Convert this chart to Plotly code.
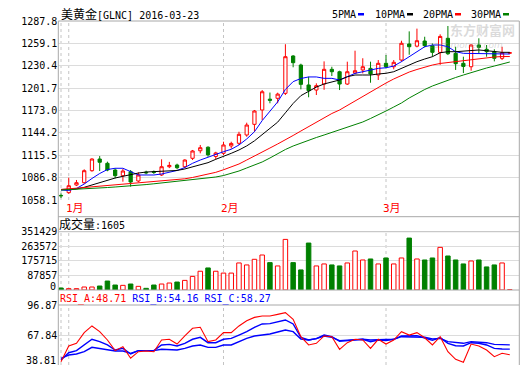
import plotly.graph_objects as go
import pandas as pd

W, H = 520, 365

trade_days = [d.strftime("%Y-%m-%d") for d in pd.bdate_range("2015-12-31", "2016-03-23")
              if d.strftime("%Y-%m-%d") != "2016-01-01"]

open_ = [1064.0, 1067.5, 1077.3, 1080.3, 1095.7, 1110.7, 1105.2, 1096.6, 1089.3, 1094.4,
         1082.5, 1093.8, 1094.5, 1090.2, 1100.8, 1103.0, 1100.8, 1111.6, 1121.3, 1125.8,
         1114.0, 1118.0, 1127.5, 1130.9, 1141.5, 1155.2, 1173.6, 1187.5, 1188.6, 1195.0,
         1242.9, 1231.3, 1205.7, 1199.2, 1206.9, 1225.8, 1222.7, 1206.9, 1221.0, 1225.0,
         1227.0, 1218.5, 1233.5, 1229.1, 1237.7, 1258.3, 1255.5, 1262.1, 1256.1, 1247.5,
         1265.6, 1246.3, 1233.5, 1229.1, 1257.0, 1251.5, 1248.4, 1239.9, 1246.5]
high = [1066.4, 1086.7, 1083.8, 1097.5, 1111.6, 1114.5, 1107.3, 1098.8, 1097.9, 1096.6,
        1093.6, 1095.7, 1096.0, 1110.3, 1107.0, 1104.7, 1110.3, 1122.3, 1128.7, 1127.0,
        1120.0, 1132.9, 1132.9, 1145.7, 1157.3, 1173.6, 1199.2, 1196.0, 1195.8, 1258.0,
        1244.0, 1233.0, 1216.3, 1207.8, 1236.0, 1229.1, 1224.0, 1235.6, 1249.7, 1240.0,
        1235.6, 1237.7, 1244.1, 1237.7, 1262.5, 1274.5, 1278.0, 1267.6, 1259.0, 1270.7,
        1281.4, 1254.8, 1242.0, 1258.0, 1265.6, 1257.0, 1251.5, 1254.8, 1248.0]
low = [1060.6, 1066.0, 1076.0, 1079.0, 1094.4, 1095.3, 1095.0, 1085.9, 1081.6, 1075.2,
       1081.0, 1091.0, 1091.5, 1089.0, 1099.0, 1097.5, 1099.0, 1109.4, 1118.0, 1113.5,
       1110.3, 1115.8, 1124.0, 1128.7, 1139.3, 1145.7, 1160.7, 1182.2, 1182.2, 1192.8,
       1228.4, 1200.1, 1189.9, 1192.8, 1199.5, 1217.2, 1199.2, 1205.7, 1220.0, 1220.6,
       1208.6, 1212.1, 1227.0, 1225.8, 1235.6, 1244.5, 1254.0, 1254.0, 1242.0, 1231.5,
       1244.1, 1225.0, 1221.0, 1224.0, 1246.3, 1242.0, 1236.0, 1237.7, 1245.5]
close = [1063.5, 1076.4, 1080.3, 1095.7, 1110.7, 1106.5, 1096.6, 1089.3, 1095.3, 1081.2,
         1090.2, 1093.0, 1093.5, 1100.8, 1102.5, 1099.5, 1109.4, 1121.0, 1125.2, 1116.0,
         1118.5, 1128.7, 1130.7, 1142.4, 1154.3, 1172.3, 1197.0, 1186.0, 1194.0, 1242.0,
         1234.3, 1206.5, 1198.4, 1204.8, 1225.8, 1222.7, 1206.9, 1222.7, 1224.0, 1229.1,
         1219.8, 1233.5, 1229.1, 1234.8, 1259.2, 1254.8, 1262.5, 1256.1, 1247.6, 1268.0,
         1245.8, 1233.0, 1229.5, 1257.0, 1254.0, 1248.4, 1239.9, 1247.0, 1247.0]

volume = [12000, 8000, 8000, 18000, 18000, 24000, 54000, 30000, 28000, 36000,
          22000, 10000, 30000, 36000, 42000, 48000, 58000, 82000, 113000, 133000,
          113000, 102000, 102000, 163000, 151000, 185000, 211000, 165000, 145000, 305000,
          165000, 121000, 283000, 145000, 157000, 151000, 145000, 163000, 235000, 181000,
          187000, 157000, 193000, 157000, 193000, 313000, 187000, 181000, 193000, 257000,
          205000, 181000, 157000, 175000, 181000, 139000, 151000, 163000, 1605]

ma5 = [1070.9, 1070.3, 1072.9, 1078.6, 1085.7, 1092.1, 1097.2, 1098.8, 1098.8, 1094.4,
       1090.2, 1090.2, 1090.2, 1091.5, 1093.4, 1096.0, 1099.8, 1105.2, 1109.4, 1113.3,
       1116.5, 1120.1, 1123.2, 1128.7, 1136.4, 1145.7, 1160.0, 1172.0, 1184.0, 1200.0,
       1210.0, 1214.0, 1216.0, 1216.0, 1214.2, 1214.2, 1212.1, 1216.3, 1220.6, 1222.7,
       1224.9, 1227.0, 1227.8, 1230.0, 1235.6, 1242.0, 1249.3, 1254.8, 1257.0, 1257.0,
       1254.8, 1248.4, 1246.3, 1246.3, 1246.3, 1245.4, 1245.4, 1246.3, 1245.4]
ma10 = [1071.6, 1071.6, 1072.2, 1074.4, 1077.3, 1080.6, 1083.8, 1086.3, 1088.5, 1090.8,
        1092.7, 1094.0, 1094.5, 1094.9, 1095.3, 1096.0, 1097.9, 1100.4, 1103.6, 1106.0,
        1110.3, 1113.7, 1118.0, 1122.3, 1127.5, 1134.0, 1142.0, 1150.0, 1158.0, 1170.0,
        1182.0, 1192.0, 1198.0, 1203.0, 1207.0, 1209.9, 1212.1, 1216.3, 1218.5, 1218.5,
        1218.5, 1219.8, 1220.7, 1222.7, 1227.1, 1231.3, 1235.6, 1239.0, 1242.0, 1247.1,
        1248.4, 1248.4, 1249.3, 1250.6, 1250.6, 1249.7, 1248.4, 1247.6, 1247.6]
ma20 = [1071.6, 1072.2, 1072.9, 1074.1, 1075.0, 1075.8, 1076.6, 1077.3, 1078.2, 1078.9,
        1079.7, 1080.4, 1081.2, 1082.0, 1083.0, 1084.0, 1085.3, 1087.0, 1088.9, 1091.1,
        1093.6, 1096.9, 1100.4, 1104.3, 1109.4, 1114.8, 1120.3, 1124.8, 1130.0, 1135.1,
        1140.9, 1146.6, 1152.4, 1158.2, 1164.0, 1169.1, 1173.6, 1179.4, 1185.1, 1191.6,
        1197.3, 1203.1, 1208.2, 1213.4, 1217.9, 1222.3, 1225.6, 1228.8, 1231.3, 1233.3,
        1234.5, 1235.8, 1237.1, 1238.4, 1239.7, 1241.0, 1241.6, 1242.2, 1242.2]
ma30 = [1070.9, 1071.3, 1071.8, 1072.3, 1072.9, 1073.5, 1074.1, 1074.8, 1075.4, 1076.1,
        1077.0, 1077.9, 1078.9, 1079.9, 1080.8, 1081.7, 1082.7, 1083.8, 1085.0, 1086.3,
        1087.6, 1089.5, 1092.1, 1095.3, 1099.2, 1103.0, 1106.9, 1112.0, 1117.8, 1122.9,
        1127.4, 1131.2, 1135.1, 1138.3, 1141.5, 1144.7, 1147.9, 1151.1, 1154.3, 1158.2,
        1162.7, 1167.2, 1172.3, 1177.4, 1182.6, 1189.0, 1194.8, 1199.9, 1204.4, 1208.2,
        1212.1, 1215.3, 1218.5, 1221.7, 1224.9, 1227.5, 1230.0, 1232.6, 1235.2]

rsi_a = [42.0, 57.2, 59.8, 70.1, 76.6, 71.1, 63.0, 52.7, 56.6, 45.3,
         51.7, 52.4, 51.7, 63.0, 63.7, 59.1, 66.9, 74.3, 75.3, 61.4,
         63.0, 70.1, 70.1, 76.6, 81.7, 84.9, 86.2, 86.2, 87.8, 89.5,
         83.0, 66.2, 58.2, 59.8, 66.9, 66.2, 54.0, 60.4, 63.7, 63.0,
         54.9, 63.7, 59.1, 63.0, 71.1, 67.8, 70.1, 65.2, 58.2, 66.2,
         51.7, 44.3, 41.4, 59.1, 57.2, 53.3, 46.9, 50.1, 48.71]
rsi_b = [43.6, 50.7, 52.7, 58.2, 63.7, 61.4, 58.2, 53.3, 54.9, 49.5,
         52.7, 52.7, 52.7, 58.2, 58.8, 57.2, 59.8, 63.7, 65.6, 60.4,
         60.4, 63.7, 64.6, 67.8, 71.1, 75.3, 78.5, 78.8, 80.7, 82.4,
         78.5, 65.6, 63.0, 64.3, 67.8, 66.2, 61.7, 62.4, 63.7, 63.7,
         61.4, 63.0, 62.4, 63.7, 66.9, 66.9, 67.2, 64.9, 62.7, 65.3,
         59.8, 57.5, 57.2, 60.4, 59.8, 58.2, 54.9, 54.3, 54.16]
rsi_c = [45.3, 48.5, 49.5, 51.7, 55.9, 54.9, 54.0, 52.4, 52.4, 50.1,
         52.7, 52.7, 52.7, 54.0, 54.0, 53.3, 54.9, 57.2, 58.2, 55.9,
         55.9, 58.2, 58.2, 61.4, 64.6, 66.9, 67.8, 68.8, 70.7, 72.7,
         71.1, 64.0, 63.0, 64.3, 66.9, 65.6, 62.4, 63.0, 63.3, 63.7,
         63.0, 63.3, 63.0, 63.7, 66.2, 65.9, 65.9, 65.6, 64.0, 64.6,
         61.4, 60.4, 59.8, 61.4, 61.1, 60.4, 58.8, 58.2, 58.27]

price_ticks = [1058.1, 1086.8, 1115.5, 1144.2, 1173.0, 1201.7, 1230.4, 1259.1, 1287.8]
vol_ticks = [87857, 175715, 263572, 351429]
rsi_ticks = [67.84, 96.87]
month_days = ["2016-01-04", "2016-02-01", "2016-03-01"]
month_names = ["1月", "2月", "3月"]
divider_days = ["2015-12-31"] + month_days

RED, GREEN, BLUE, BLACK = "#ff0000", "#008000", "#0000ff", "#000000"
GRID, FRAME, DASH = "#dcdcdc", "#a8a8a8", "#c4c4c4"
MONO = "DejaVu Sans Mono, Noto Sans CJK SC, monospace"


def px(x):
    return x / W


def py(y):
    return 1 - y / H


def cjk(s):
    return '<span style="font-size:12px">%s</span>' % s


X0, X1 = 58.3, 519.3
XRANGE = [(X0 - 61) / 7.738, (X1 - 61) / 7.738]

fig = go.Figure()

fig.add_trace(go.Candlestick(
    x=trade_days, open=open_, high=high, low=low, close=close,
    increasing=dict(line=dict(color=RED, width=1), fillcolor="white"),
    decreasing=dict(line=dict(color=GREEN, width=1), fillcolor=GREEN),
    whiskerwidth=0, xaxis="x", yaxis="y", hoverinfo="skip", showlegend=False))

for vals, col in [(ma5, BLUE), (ma10, BLACK), (ma20, RED), (ma30, GREEN)]:
    fig.add_trace(go.Scatter(x=trade_days, y=vals, mode="lines",
                             line=dict(color=col, width=1), xaxis="x", yaxis="y",
                             hoverinfo="skip", showlegend=False))

up = [c >= o for o, c in zip(open_, close)]
fig.add_trace(go.Bar(
    x=trade_days, y=volume, width=0.58,
    marker=dict(color=["white" if u else GREEN for u in up],
                line=dict(color=[RED if u else GREEN for u in up], width=1)),
    xaxis="x2", yaxis="y2", hoverinfo="skip", showlegend=False))

for vals, col, w in [(rsi_c, BLUE, 1.4), (rsi_b, BLUE, 1.4), (rsi_a, RED, 1.1)]:
    fig.add_trace(go.Scatter(x=trade_days, y=vals, mode="lines",
                             line=dict(color=col, width=w), xaxis="x3", yaxis="y3",
                             hoverinfo="skip", showlegend=False))

xcommon = dict(domain=[px(X0), px(X1)], type="category", categoryorder="array",
               categoryarray=trade_days, range=XRANGE, showticklabels=False,
               showgrid=False, zeroline=False, showline=False, ticks="",
               fixedrange=True, automargin=False, rangeslider=dict(visible=False))
tickfont = dict(family=MONO, size=10, color=BLACK)
ycommon = dict(showgrid=True, gridcolor=GRID, gridwidth=1, zeroline=False,
               showline=False, ticks="", tickfont=tickfont, fixedrange=True,
               automargin=False)

fig.update_layout(
    width=W, height=H, margin=dict(l=0, r=0, t=0, b=0, pad=0, autoexpand=False),
    paper_bgcolor="white", plot_bgcolor="white", showlegend=False,
    boxgap=0.4, bargap=0.3, hovermode=False,
    xaxis=dict(anchor="y", **xcommon),
    xaxis2=dict(anchor="y2", **xcommon),
    xaxis3=dict(anchor="y3", **xcommon),
    yaxis=dict(anchor="x", domain=[py(200), py(21)], range=[1058.1, 1287.8],
               tickvals=price_ticks, ticktext=["%.1f" % v for v in price_ticks], **ycommon),
    yaxis2=dict(anchor="x2", domain=[py(290), py(231.7)], range=[0, 351429],
                tickvals=vol_ticks, ticktext=[str(v) for v in vol_ticks], **ycommon),
    yaxis3=dict(anchor="x3", domain=[py(365), py(305)], range=[38.81, 96.87],
                tickvals=rsi_ticks, ticktext=["%.2f" % v for v in rsi_ticks], **ycommon),
)

shapes = []
for d in divider_days:
    for xr, ya, yb in [("x", 21, 200), ("x2", 231.7, 290), ("x3", 305, 365)]:
        shapes.append(dict(type="line", xref=xr, yref="paper", x0=d, x1=d,
                           y0=py(yb), y1=py(ya), layer="below",
                           line=dict(color=DASH, width=1, dash="3px,3px")))
for y in [21, 216.7, 290, 305]:
    shapes.append(dict(type="line", xref="paper", yref="paper", x0=px(X0), x1=px(X1),
                       y0=py(y), y1=py(y), line=dict(color=FRAME, width=1)))
for x in [X0, X1]:
    shapes.append(dict(type="line", xref="paper", yref="paper", x0=px(x), x1=px(x),
                       y0=py(365), y1=py(21), line=dict(color=FRAME, width=1)))
shapes.append(dict(type="line", xref="paper", yref="paper", x0=px(X0), x1=px(X1),
                   y0=py(231.7), y1=py(231.7), line=dict(color="#bcbcbc", width=1)))

legend = [("5PMA", 331.7, 358, BLUE), ("10PMA", 375, 407, BLACK),
          ("20PMA", 422.7, 455, RED), ("30PMA", 470.7, 503, GREEN)]
annotations = []
for name, tx, sx, col in legend:
    annotations.append(dict(text=name, x=px(tx), y=py(14.5), xref="paper", yref="paper",
                            xanchor="left", yanchor="middle", showarrow=False,
                            borderpad=0, borderwidth=0, font=dict(family=MONO, size=10, color=BLACK)))
    shapes.append(dict(type="rect", xref="paper", yref="paper", x0=px(sx), x1=px(sx + 6),
                       y0=py(15.5), y1=py(13), fillcolor=col, line=dict(width=0)))

fig.update_layout(shapes=shapes)

annotations += [
    dict(text=cjk("美黄金") + "[GLNC] 2016-03-23", x=px(61), y=py(14.5),
         xref="paper", yref="paper", xanchor="left", yanchor="middle", showarrow=False,
         borderpad=0, borderwidth=0, font=dict(family=MONO, size=10, color=BLACK)),
    dict(text=cjk("成交量") + ":1605", x=px(59), y=py(224.5),
         xref="paper", yref="paper", xanchor="left", yanchor="middle", showarrow=False,
         borderpad=0, borderwidth=0, font=dict(family=MONO, size=10, color=BLACK)),
    dict(text='<span style="color:#ff0000">RSI_A:48.71</span> '
              '<span style="color:#0000ff">RSI_B:54.16</span> '
              '<span style="color:#0000ff">RSI_C:58.27</span>',
         x=px(60), y=py(298.5), xref="paper", yref="paper", xanchor="left",
         yanchor="middle", showarrow=False, borderpad=0, borderwidth=0,
         font=dict(family=MONO, size=10, color=BLACK)),
    dict(text="0", x=px(55.5), y=py(286.7), xref="paper", yref="paper", xanchor="right",
         yanchor="middle", showarrow=False, borderpad=0, borderwidth=0, font=tickfont),
    dict(text="38.81", x=px(55.5), y=py(360.5), xref="paper", yref="paper", xanchor="right",
         yanchor="middle", showarrow=False, borderpad=0, borderwidth=0, font=tickfont),
    dict(text="<b>东方财富网</b>", x=px(450), y=py(29.5), xref="paper", yref="paper",
         xanchor="left", yanchor="middle", showarrow=False, borderpad=0, borderwidth=0,
         font=dict(family="Noto Sans CJK SC", size=13, color="rgba(150,150,150,0.35)")),
    dict(text="<i>east-money.com</i>", x=px(428), y=py(44.5), xref="paper", yref="paper",
         xanchor="left", yanchor="middle", showarrow=False, borderpad=0, borderwidth=0,
         font=dict(family="DejaVu Sans", size=9, color="rgba(150,150,150,0.35)")),
]
for d, name in zip(month_days, month_names):
    annotations.append(dict(text=name, x=d, y=py(208), xref="x", yref="paper",
                            xanchor="left", yanchor="middle", xshift=-3, showarrow=False,
                            borderpad=0, borderwidth=0,
                            font=dict(family="DejaVu Sans Mono, Noto Sans CJK SC", size=11, color=RED)))

fig.update_layout(annotations=annotations)

fig.write_html("out.html", config={"displayModeBar": False},
               post_script="document.body.style.margin='0';document.body.style.padding='0';"
                           "document.body.style.overflow='hidden';")
